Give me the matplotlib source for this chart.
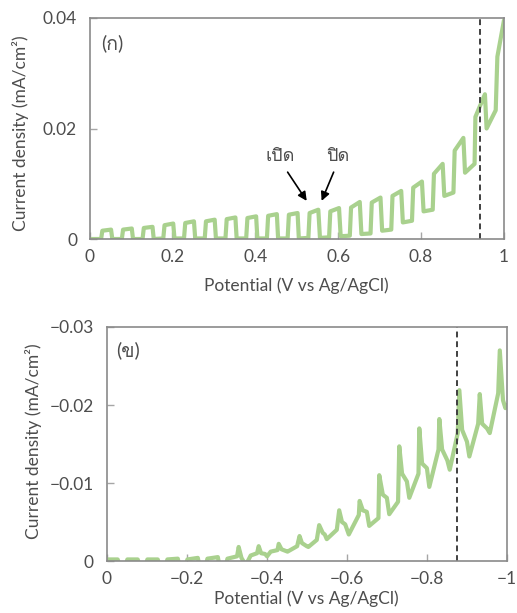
import matplotlib
matplotlib.use("Agg")
import matplotlib.pyplot as plt
from matplotlib import font_manager
from matplotlib.ft2font import FT2Font
from matplotlib.ticker import FixedLocator, FixedFormatter

# ---- data ----
# (ก) anodic sweep, chopped light
top_potential = [
    0.000, 0.028,
    0.031, 0.052, 0.055, 0.078,
    0.081, 0.102, 0.105, 0.128,
    0.131, 0.152, 0.155, 0.178,
    0.181, 0.202, 0.205, 0.228,
    0.231, 0.252, 0.255, 0.278,
    0.281, 0.302, 0.305, 0.328,
    0.331, 0.352, 0.355, 0.378,
    0.381, 0.402, 0.405, 0.428,
    0.431, 0.452, 0.455, 0.478,
    0.481, 0.502, 0.505, 0.528,
    0.531, 0.552, 0.556, 0.578,
    0.581, 0.602, 0.606, 0.628,
    0.631, 0.652, 0.656, 0.678,
    0.681, 0.702, 0.706, 0.728,
    0.731, 0.752, 0.756, 0.778,
    0.781, 0.802, 0.806, 0.828,
    0.831, 0.852, 0.856, 0.878,
    0.881, 0.902, 0.906, 0.929,
    0.931, 0.954, 0.958, 0.980,
    0.984, 1.000,
]
top_current = [
    0.0000, 0.0000,
    0.0015, 0.0017, 0.0000, 0.0000,
    0.0017, 0.0019, 0.0000, 0.0000,
    0.0020, 0.0022, 0.0000, 0.0001,
    0.0025, 0.0028, 0.0001, 0.0001,
    0.0029, 0.0032, 0.0001, 0.0001,
    0.0032, 0.0035, 0.0001, 0.0001,
    0.0036, 0.0039, 0.0001, 0.0001,
    0.0038, 0.0041, 0.0001, 0.0001,
    0.0042, 0.0045, 0.0001, 0.0001,
    0.0044, 0.0047, 0.0001, 0.0002,
    0.0047, 0.0053, 0.0002, 0.0003,
    0.0050, 0.0056, 0.0005, 0.0006,
    0.0057, 0.0067, 0.0009, 0.0010,
    0.0066, 0.0075, 0.0015, 0.0017,
    0.0078, 0.0087, 0.0030, 0.0033,
    0.0093, 0.0104, 0.0050, 0.0053,
    0.0118, 0.0136, 0.0078, 0.0084,
    0.0160, 0.0183, 0.0120, 0.0136,
    0.0221, 0.0262, 0.0200, 0.0233,
    0.0330, 0.0396,
]

# (ข) cathodic sweep, chopped light
bottom_potential = [
    -0.000, -0.028, -0.032, -0.048,
    -0.052, -0.078, -0.082, -0.098,
    -0.102, -0.128, -0.132, -0.148,
    -0.152, -0.178, -0.182, -0.198,
    -0.202, -0.228, -0.232, -0.248,
    -0.252, -0.278, -0.282, -0.298,
    -0.302, -0.326,
    -0.330, -0.337, -0.345, -0.352, -0.360, -0.376,
    -0.380, -0.386, -0.396, -0.401, -0.410, -0.427,
    -0.430, -0.437, -0.447, -0.452, -0.476,
    -0.482, -0.488, -0.500, -0.504, -0.525,
    -0.531, -0.540, -0.545, -0.550, -0.575,
    -0.581, -0.588, -0.596, -0.605, -0.630,
    -0.632, -0.640, -0.650, -0.656, -0.679,
    -0.681, -0.690, -0.700, -0.706, -0.728,
    -0.731, -0.738, -0.750, -0.756, -0.779,
    -0.781, -0.788, -0.800, -0.806, -0.829,
    -0.831, -0.838, -0.851, -0.857, -0.877,
    -0.881, -0.888, -0.900, -0.906, -0.928,
    -0.932, -0.938, -0.950, -0.957, -0.978,
    -0.982, -0.990, -0.996, -1.000,
]
bottom_current = [
    -0.0002, -0.0002, 0.0006, 0.0006,
    -0.0002, -0.0002, 0.0006, 0.0006,
    -0.0002, -0.0002, 0.0006, 0.0006,
    -0.0002, -0.0003, 0.0006, 0.0006,
    -0.0002, -0.0004, 0.0006, 0.0006,
    -0.0003, -0.0005, 0.0006, 0.0006,
    -0.0003, -0.0006,
    -0.0018, -0.0004, 0.0003, 0.0001, -0.0007, -0.0010,
    -0.0019, -0.0010, -0.0009, -0.0006, -0.0012, -0.0014,
    -0.0022, -0.0015, -0.0013, -0.0012, -0.0019,
    -0.0032, -0.0023, -0.0019, -0.0018, -0.0027,
    -0.0046, -0.0036, -0.0034, -0.0028, -0.0040,
    -0.0065, -0.0050, -0.0047, -0.0034, -0.0059,
    -0.0077, -0.0065, -0.0063, -0.0045, -0.0055,
    -0.0110, -0.0085, -0.0081, -0.0060, -0.0076,
    -0.0147, -0.0112, -0.0102, -0.0081, -0.0112,
    -0.0170, -0.0125, -0.0119, -0.0095, -0.0143,
    -0.0182, -0.0143, -0.0129, -0.0117, -0.0164,
    -0.0219, -0.0168, -0.0153, -0.0134, -0.0176,
    -0.0214, -0.0176, -0.0170, -0.0164, -0.0215,
    -0.0270, -0.0206, -0.0196, -0.0200,
]

top_marker_v = 0.941
bottom_marker_v = -0.874

top_xticks = [0, 0.2, 0.4, 0.6, 0.8, 1]
top_xticklabels = ["0", "0.2", "0.4", "0.6", "0.8", "1"]
top_yticks = [0, 0.02, 0.04]
top_yticklabels = ["0", "0.02", "0.04"]
bottom_xticks = [0, -0.2, -0.4, -0.6, -0.8, -1]
bottom_xticklabels = ["0", "\u22120.2", "\u22120.4", "\u22120.6", "\u22120.8", "\u22121"]
bottom_yticks = [0, -0.01, -0.02, -0.03]
bottom_yticklabels = ["0", "\u22120.01", "\u22120.02", "\u22120.03"]

on_label, off_label = "เปิด", "ปิด"
on_text_xy, on_tail, on_head = (0.461, 0.0151), (0.478, 0.0121), (0.524, 0.0069)
off_text_xy, off_tail, off_head = (0.599, 0.0151), (0.589, 0.0121), (0.560, 0.0069)


def find_thai_font():
    for entry in font_manager.fontManager.ttflist:
        try:
            cmap = FT2Font(entry.fname).get_charmap()
        except Exception:
            continue
        if all(ord(c) in cmap for c in "เปิดกข"):
            return entry.name
    return None


thai = find_thai_font()
families = ["Lato"] + ([thai] if thai else []) + ["DejaVu Sans"]
plt.rcParams["font.family"] = families
plt.rcParams["font.size"] = 12.5
plt.rcParams["axes.unicode_minus"] = True

GREEN = "#a9d18e"
TEXT = "#4d4d4d"
SPINE = "#8a8a8a"

fig = plt.figure(figsize=(5.17, 6.13), dpi=100)
ax1 = fig.add_axes([89.5 / 517, 1 - 239 / 613, 414.5 / 517, 221 / 613])
ax2 = fig.add_axes([106.5 / 517, 1 - 561 / 613, 400.5 / 517, 234 / 613])


def style(ax, xt, xtl, yt, ytl):
    for s in ax.spines.values():
        s.set_color(SPINE)
        s.set_linewidth(1.2)
    ax.xaxis.set_major_locator(FixedLocator(xt))
    ax.xaxis.set_major_formatter(FixedFormatter(xtl))
    ax.yaxis.set_major_locator(FixedLocator(yt))
    ax.yaxis.set_major_formatter(FixedFormatter(ytl))
    ax.tick_params(direction="in", length=5, width=1.0, color="#a6a6a6",
                   labelcolor=TEXT, labelsize=12.5)
    ax.tick_params(axis="x", pad=7)
    ax.tick_params(axis="y", pad=9)


ax1.plot(top_potential, top_current, color=GREEN, lw=3.0,
         solid_joinstyle="round", solid_capstyle="round")
ax1.axvline(top_marker_v, color="#404040", lw=1.4, ls=(0, (3, 2)))
ax1.set_xlim(0, 1)
ax1.set_ylim(0, 0.04)
style(ax1, top_xticks, top_xticklabels, top_yticks, top_yticklabels)
ax1.set_xlabel("Potential (V vs Ag/AgCl)", color=TEXT)
ax1.set_ylabel("Current density (mA/cm²)", color=TEXT)
ax1.xaxis.set_label_coords(0.5, -0.175)
ax1.yaxis.set_label_coords(-0.145, 0.48)
ax1.text(0.028, 0.887, "(ก)", transform=ax1.transAxes, ha="left", va="center",
         color=TEXT, fontsize=14)
ax1.text(*on_text_xy, on_label, ha="center", va="center", color=TEXT, fontsize=13)
ax1.text(*off_text_xy, off_label, ha="center", va="center", color=TEXT, fontsize=13)
for tail, head in [(on_tail, on_head), (off_tail, off_head)]:
    ax1.annotate("", xy=head, xytext=tail,
                 arrowprops=dict(arrowstyle="-|>", color="black", lw=1.2,
                                 mutation_scale=13, shrinkA=0, shrinkB=0))

ax2.plot(bottom_potential, bottom_current, color=GREEN, lw=3.0,
         solid_joinstyle="round", solid_capstyle="round")
ax2.axvline(bottom_marker_v, color="#404040", lw=1.4, ls=(0, (3, 2)))
ax2.set_xlim(0, -1)
ax2.set_ylim(0, -0.03)
style(ax2, bottom_xticks, bottom_xticklabels, bottom_yticks, bottom_yticklabels)
ax2.set_xlabel("Potential (V vs Ag/AgCl)", color=TEXT)
ax2.set_ylabel("Current density (mA/cm²)", color=TEXT)
ax2.xaxis.set_label_coords(0.5, -0.125)
ax2.yaxis.set_label_coords(-0.16, 0.51)
ax2.text(0.024, 0.902, "(ข)", transform=ax2.transAxes, ha="left", va="center",
         color=TEXT, fontsize=14)

fig.savefig("out.png", dpi=100)
